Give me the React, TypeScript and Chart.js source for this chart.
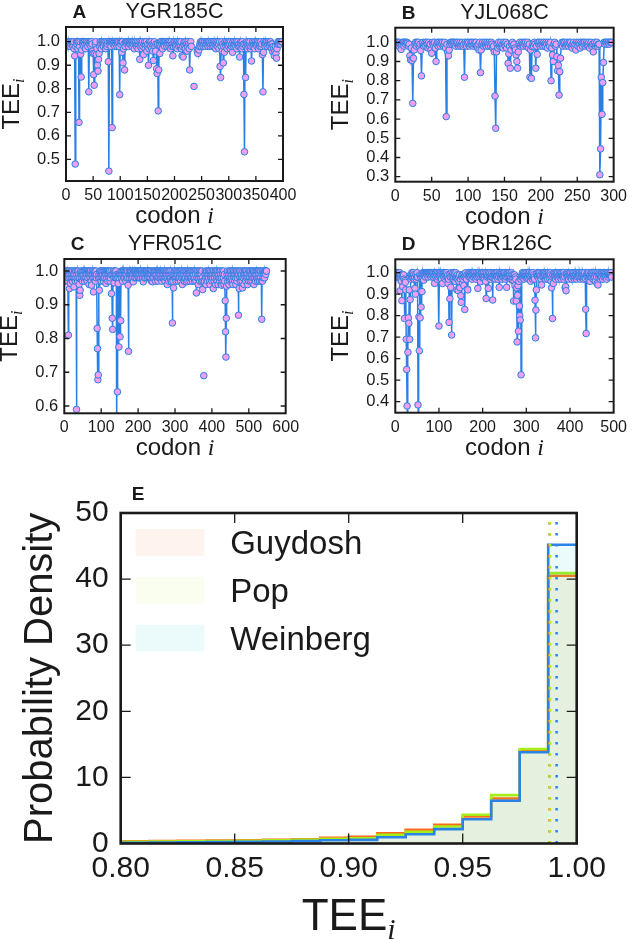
import React, { useEffect, useRef } from "react";
import { Chart, registerables } from "chart.js";

Chart.register(...registerables);

// ---------------- data: per-codon TEE values (codon i = index + 1) ----------------
const teeYGR185C: (number | null)[] = [
  1, .99, .98, .985, 1, .99, 1, .98, .99, 1,
  1, .99, .98, 1, .97, .94, .48, .98, 1, .99,
  1, .97, 1, .657, .98, 1, .947, .85, .965, 1,
  .99, 1, .98, 1, .99, .97, 1, 1, .99, .98,
  1, .787, .99, 1, 1, .98, 1, .99, .96, .95,
  .86, .815, .95, .99, 1, .945, .97, .9, .875, .925,
  .95, .98, 1, .99, .97, 1, .99, 1, .98, 1,
  1, .99, .97, 1, .98, .99, 1, .915, .45, 1,
  .99, 1, .98, 1, .635, 1, .99, 1, 1, .98,
  1, .99, 1, .98, 1, .99, 1, .98, .775, 1,
  .99, 1, .955, 1, .91, .97, .99, .88, .98, 1,
  1, .99, 1, 1, .98, 1, .99, 1, 1, .99,
  1, .98, 1, .99, 1, .97, 1, .99, 1, .98,
  .99, 1, .97, .99, 1, .925, .98, 1, .99, .97,
  1, .98, .945, .99, 1, .97, .99, 1, .96, .98,
  .99, .9, .97, 1, .99, .98, 1, .97, .99, .96,
  .92, .99, 1, .98, .96, .99, .885, .865, .99, .706,
  .88, .99, .95, 1, .98, 1, .99, .97, 1, .99,
  1, .98, 1, 1, .99, .98, 1, .99, 1, .98,
  1, .99, .97, 1, .98, .99, .94, .98, 1, .99,
  1, .98, .99, 1, .97, 1, .99, .98, 1, .99,
  .98, 1, .97, .94, .98, .935, .99, 1, .98, .97,
  1, .99, .96, .98, 1, .99, .97, .88, .99, 1,
  .98, null, null, null, null, .81, null, null, null, null,
  null, .96, .95, .97, .965, .98, .99, 1, .98, 1,
  .99, 1, .98, .99, 1, 1, .98, .99, 1, .99,
  1, .98, 1, .99, 1, .98, .99, 1, 1, .98,
  .99, 1, .98, 1, .99, .97, 1, .99, .98, 1,
  .99, .97, 1, .895, .848, .98, 1, .96, .99, .91,
  .98, .955, 1, .99, .98, 1, .97, .99, 1, .98,
  1, .99, .97, 1, .98, .99, .955, 1, .98, .99,
  1, .99, .98, 1, .97, .99, 1, .98, .99, .935,
  .98, 1, .99, .97, 1, .98, .99, .776, .532, .99,
  .848, .98, 1, .99, .97, 1, .98, .99, 1, .97,
  .98, .918, .99, 1, .98, .99, 1, .97, .99, 1,
  .99, .98, 1, .99, .97, 1, .98, .99, 1, .98,
  .99, .945, .787, .955, 1, .99, .98, 1, .99, 1,
  .98, .99, 1, 1, .99, .98, 1, .99, .97, .99,
  .958, .98, .97, .94, .96, .98, .95, .93, .97, .99,
  1, .99, 1, 1, .99, 1, 1, 1,
];

const teeYJL068C: (number | null)[] = [
  1, 1, .99, 1, .98, 1, .99, .963, .99, 1,
  1, .98, 1, .99, 1, 1, .995, .98, .99, .93,
  .908, .97, .905, .682, .917, .96, .99, 1, .98, 1,
  .99, 1, .98, .99, .957, .825, .99, 1, .98, .99,
  1, .98, 1, .99, .97, 1, .98, .99, .96, .943,
  1, .99, .98, 1, .97, .9, .99, 1, .98, 1,
  .99, .98, 1, .99, 1, .98, .99, 1, .97, .613,
  .99, .95, .93, .96, .99, 1, 1, .99, 1, 1,
  .99, 1, .98, 1, .99, 1, .98, .99, 1, .98,
  .99, 1, .98, .99, .818, 1, .99, .98, 1, .99,
  1, .98, .99, 1, .99, 1, .98, .99, 1, .99,
  1, .98, .97, .99, .96, 1, .842, .96, .99, 1,
  .98, .99, 1, .99, .98, 1, .99, .98, 1, .99,
  .98, 1, .99, .97, .98, .95, .72, .552, .95, .99,
  .97, 1, .98, .99, 1, .98, .99, .97, 1, .99,
  .98, 1, .97, .99, .89, .94, .98, .865, .96, .99,
  1, .98, .99, .97, .96, .934, .9, .865, .95, .99,
  1, .98, .99, 1, .99, .98, 1, .99, 1, .98,
  .99, 1, .97, .99, .818, .96, .812, .977, .99, .98,
  1, .99, .865, .98, .937, 1, .99, 1, .98, .99,
  1, .99, .98, 1, .99, .98, 1, .99, .97, 1,
  .99, .98, 1, .8, .97, .934, .9, .99, 1, .98,
  .99, .925, .852, .88, .725, .847, .917, .99, 1, .98,
  1, .99, 1, .98, .99, 1, .99, .98, 1, .99,
  1, .98, .97, .99, 1, .98, .99, .96, 1, .99,
  .98, 1, .99, .97, 1, .99, .98, 1, .99, 1,
  .98, .99, 1, .99, .98, 1, .97, .99, 1, .98,
  .99, .95, .99, 1, .98, .99, 1, .98, .99, .99,
  .31, .445, .818, .625, .79, .895, 1, .99, 1, 1,
  .99, 1, 1, .99, 1, 1, 1,
];

const teeYFR051C: (number | null)[] = [
  1, .98, .99, .97, 1, .973, .99, 1, .99, .98,
  .81, .99, 1, .948, .98, .99, .963, 1, .98, 1,
  .99, .97, 1, .98, .99, .953, .98, 1, .99, .97,
  1, .98, .59, .99, 1, .97, .98, 1, .99, .96,
  .98, .928, .943, .99, 1, .98, .99, 1, .97, .99,
  1, .98, .99, 1, .97, .98, 1, .99, .98, 1,
  .99, .97, 1, .98, .99, 1, .96, .99, 1, .98,
  1, .99, .97, .958, .99, 1, .98, .99, .938, 1,
  .98, .99, 1, .97, .99, 1, .98, .99, .83, .77,
  .678, .692, .98, .99, .943, 1, .98, .99, 1, .97,
  .99, 1, .98, .99, 1, .97, .98, 1, .99, .98,
  1, .99, .963, 1, .98, .99, 1, .97, .99, 1,
  .98, .99, 1, .97, .98, .99, 1, .933, .99, .86,
  .827, .99, 1, .98, .965, .99, 1, .98, .99, 1,
  .98, .52, .99, .642, .98, .963, .99, .775, .98, .99,
  .805, .99, .853, 1, .98, .99, 1, .97, .99, 1,
  .98, 1, .99, .98, 1, .99, .97, 1, .98, .99,
  1, .98, .958, .762, .99, 1, .98, .99, 1, .99,
  1, .98, .99, 1, .99, .98, .968, 1, .99, 1,
  .98, 1, .99, 1, .98, .99, 1, .99, 1, .98,
  1, .99, .98, 1, .99, 1, .98, 1, .99, 1,
  .99, .98, 1, .968, .99, 1, .98, 1, .99, 1,
  .98, .99, 1, 1, .99, .98, 1, .99, 1, .98,
  .99, 1, .98, 1, .99, .97, 1, .99, .968, .98,
  1, .99, .98, 1, .99, 1, .97, .99, 1, .98,
  .99, 1, .98, .97, 1, .99, .98, 1, .99, 1,
  .98, .99, 1, .97, .98, 1, .99, .98, 1, .99,
  1, .98, .97, .99, 1, .98, .99, 1, .96, .98,
  1, .99, .97, 1, .98, .99, 1, .98, .97, .99,
  .968, 1, .846, .99, .97, .95, .99, 1, .98, .99,
  1, .98, .97, .99, 1, .98, .99, 1, .97, .98,
  1, .99, .98, 1, .97, .99, 1, .98, .99, .96,
  1, .98, .99, 1, .97, .98, 1, .99, .98, 1,
  .968, .99, 1, .98, .97, .99, 1, .98, .99, 1,
  .97, .98, 1, .99, .98, 1, .97, .99, 1, .98,
  .99, 1, .97, .98, 1, .99, .97, .935, 1, .98,
  .99, 1, .96, .98, .99, 1, .97, .99, .98, 1,
  .99, .97, 1, .98, .945, .97, null, .69, null, .97,
  .99, 1, .98, .96, .99, 1, .98, .97, .99, 1,
  .98, .99, 1, .97, .96, .99, 1, .98, .99, .97,
  1, .98, .99, .948, 1, .97, .99, .98, 1, .96,
  .99, 1, .98, .97, .99, 1, .96, .98, .99, 1,
  .97, .98, 1, .99, .96, .98, .958, 1, .99, .97,
  .98, 1, .96, .99, .97, .912, .82, .745, .86, .955,
  .99, 1, .97, .98, .99, .96, 1, .98, .97, .99,
  1, .973, .98, .99, 1, .97, .96, .99, 1, .98,
  .99, .97, 1, .98, .96, .99, 1, .97, .98, .99,
  1, .869, .99, .948, 1, .98, .97, .99, 1, .98,
  .99, .97, .95, 1, .98, .99, .96, 1, .99, .98,
  1, .97, .99, .98, 1, .99, .96, .98, .971, 1,
  .99, .98, 1, .97, .99, 1, .98, .99, .97, 1,
  .98, .99, 1, .96, .98, .99, 1, .97, .99, 1,
  .98, .99, 1, .97, .98, 1, .99, .98, .97, 1,
  .99, .98, 1, .97, .857, .99, .97, 1, .98, .99,
  1, .99, .98, 1, 1, .99, 1, 1,
];

const teeYBR126C: (number | null)[] = [
  1, .99, .98, 1, .985, .99, 1, .98, .99, 1,
  .916, .98, .99, .96, .87, .99, .935, .98, .99, .97,
  .787, .963, .955, .92, .69, .55, .38, .30, .63, .79,
  .765, .92, .69, .875, .99, .97, .98, 1, .99, .98,
  1, .99, .97, .98, .927, .9, .99, .97, .98, 1,
  .98, .385, .3, .795, .637, .99, .79, .98, .84, .99,
  .912, .98, 1, .99, .965, 1, .99, 1, .98, 1,
  1, .99, 1, 1, .98, 1, .99, 1, 1, .99,
  1, .98, 1, .99, 1, 1, .98, .99, 1, .95,
  .99, 1, .98, 1, .99, .97, 1, .98, .99, .752,
  1, .99, .98, 1, .99, .97, 1, .95, .99, 1,
  .98, 1, .99, .97, 1, .98, .99, 1, .98, .99,
  .95, .97, .769, .99, .879, .98, .932, 1, .71, .98,
  .99, 1, .97, .98, 1, .99, .96, .98, 1, .974,
  .92, .99, .97, .916, .98, .96, .99, .93, .97, .893,
  .862, .98, .99, .95, .97, .99, .94, .98, .829, .99,
  1, .98, .97, .99, .924, .92, .99, 1, .98, .99,
  1, .99, .98, 1, .99, .97, 1, .99, .98, 1,
  .99, 1, .98, .99, .97, 1, .98, .99, .927, 1,
  .99, .98, 1, .99, .958, .98, 1, .99, 1, .98,
  .99, 1, .98, .97, .99, 1, .96, .88, .99, 1,
  .98, .99, .927, 1, .98, .99, 1, .97, .98, .99,
  1, .98, .873, .99, 1, .98, .99, 1, .97, .99,
  1, .98, .99, 1, .97, .99, .98, .932, 1, .99,
  .98, 1, .99, .97, 1, .98, .99, 1, .98, .99,
  1, .97, .99, .98, .932, 1, .99, .98, 1, .99,
  .98, 1, .99, .97, .98, 1, .99, .966, .98, .99,
  .868, .96, .99, .94, .98, .97, .868, .93, .678, .895,
  .94, .728, .96, .845, .8, .78, .97, .525, .98, .99,
  1, .98, .99, 1, .97, .99, 1, .98, .99, 1,
  .974, .99, .98, 1, .99, .97, 1, .98, .99, .96,
  .98, 1, .99, .97, 1, .98, .99, .98, .97, .872,
  .697, .826, .92, .99, 1, .98, .99, 1, .97, .99,
  1, .98, .99, .97, .943, 1, .99, .98, 1, .99,
  .98, 1, .99, .97, 1, .98, .99, 1, .97, .99,
  1, .98, .99, .97, 1, .99, .96, .93, .98, .787,
  .99, .95, 1, .98, .99, 1, .97, .99, 1, .98,
  .99, 1, .98, .97, .99, 1, .98, .99, 1, .97,
  .99, 1, .98, .99, 1, .97, .99, .98, .93, .935,
  .916, .99, 1, .98, .99, 1, .97, .99, 1, .98,
  .99, 1, .98, .97, .99, 1, .98, .99, 1, .97,
  .99, .98, 1, .99, .97, 1, .98, .99, 1, .99,
  .98, 1, .99, .97, .98, 1, .99, .98, 1, .99,
  .97, .98, .99, 1, .974, .83, .717, .99, .98, 1,
  .99, .98, 1, .97, .99, .96, .98, 1, .99, .98,
  1, .99, .97, .98, 1, .99, .98, .96, 1, .99,
  .98, .95, 1, .943, .99, .98, 1, .99, .97, .98,
  1, .99, .98, 1, .97, .99, 1, .98, .99, 1,
  .99, .98, 1, .97, .99, 1, .98, .99, 1, .99,
  .99, 1, .99, 1, .98,
];

const xTicksA = [0, 50, 100, 150, 200, 250, 300, 350, 400];
const xTicksB = [0, 50, 100, 150, 200, 250, 300];
const xTicksC = [0, 100, 200, 300, 400, 500, 600];
const xTicksD = [0, 100, 200, 300, 400, 500];
const yTicksA = [0.5, 0.6, 0.7, 0.8, 0.9, 1.0];
const yTicksB = [0.3, 0.4, 0.5, 0.6, 0.7, 0.8, 0.9, 1.0];
const yTicksC = [0.6, 0.7, 0.8, 0.9, 1.0];
const yTicksD = [0.4, 0.5, 0.6, 0.7, 0.8, 0.9, 1.0];

// ---------------- histogram (panel E) ----------------
const binEdges = [0.8, 0.8125, 0.825, 0.8375, 0.85, 0.8625, 0.875, 0.8875, 0.9, 0.9125, 0.925, 0.9375, 0.95, 0.9625, 0.975, 0.9875];
const binEnd = 1.0;
const guydoshDensity = [0.35, 0.38, 0.4, 0.43, 0.47, 0.55, 0.65, 0.85, 1.0, 1.55, 2.06, 2.83, 4.08, 6.81, 14.0, 40.5];
const popDensity = [0.25, 0.28, 0.32, 0.36, 0.4, 0.47, 0.55, 0.72, 0.8, 1.3, 1.76, 2.58, 4.34, 7.32, 14.3, 40.9];
const weinbergDensity = [0.12, 0.15, 0.18, 0.22, 0.26, 0.3, 0.37, 0.5, 0.55, 0.95, 1.41, 2.17, 3.68, 6.46, 13.8, 45.2];
const medianGuydosh = 0.9881;
const medianPop = 0.9883;
const medianWeinberg = 0.9912;
const histXTicks = [0.8, 0.85, 0.9, 0.95, 1.0];
const histYTicks = [0, 10, 20, 30, 40, 50];
const seriesNames = ["Guydosh", "Pop", "Weinberg"];

// ---------------- styling ----------------
const FONT = "'Liberation Sans', Arial, Helvetica, sans-serif";
const SERIF = "'Liberation Serif', 'DejaVu Serif', serif";
const INK = "#1a1a1a";
const STEM_BLUE = "#2a7fe3";
const MARKER_FILL = "#ee9ff1";
const LINE_COLORS = ["#ff6a1c", "#a6ee1a", "#2b83e6"];
const FILL_COLORS = ["rgba(255,100,50,0.08)", "rgba(190,240,30,0.07)", "rgba(0,200,215,0.08)"];

type Part = { text: string; font: string; dy?: number };

function drawParts(ctx: CanvasRenderingContext2D, parts: Part[], x: number, y: number, align: "left" | "center") {
  ctx.textAlign = "left";
  ctx.textBaseline = "alphabetic";
  const widths = parts.map((p) => {
    ctx.font = p.font;
    return ctx.measureText(p.text).width;
  });
  const total = widths.reduce((a, b) => a + b, 0);
  let cx = align === "center" ? x - total / 2 : x;
  parts.forEach((p, i) => {
    ctx.font = p.font;
    ctx.fillText(p.text, cx, y + (p.dy || 0));
    cx += widths[i];
  });
}

function drawRotated(ctx: CanvasRenderingContext2D, parts: Part[], x: number, y: number) {
  ctx.save();
  ctx.translate(x, y);
  ctx.rotate(-Math.PI / 2);
  drawParts(ctx, parts, 0, 0, "center");
  ctx.restore();
}

function framePlugin(opts: {
  xTicks: number[];
  yTicks: number[];
  tickLen: number;
  frameWidth: number;
  text: (ctx: CanvasRenderingContext2D, a: { left: number; right: number; top: number; bottom: number }) => void;
}) {
  return {
    id: "frameAndText",
    afterDraw(chart: any) {
      const ctx: CanvasRenderingContext2D = chart.ctx;
      const a = chart.chartArea;
      const xs = chart.scales.x;
      const ys = chart.scales.y;
      ctx.save();
      ctx.strokeStyle = INK;
      ctx.lineWidth = 1.3;
      ctx.beginPath();
      for (const v of opts.xTicks) {
        const px = xs.getPixelForValue(v);
        if (px <= a.left + 1 || px >= a.right - 1) continue;
        ctx.moveTo(px, a.bottom);
        ctx.lineTo(px, a.bottom - opts.tickLen);
        ctx.moveTo(px, a.top);
        ctx.lineTo(px, a.top + opts.tickLen);
      }
      for (const v of opts.yTicks) {
        const py = ys.getPixelForValue(v);
        if (py <= a.top + 1 || py >= a.bottom - 1) continue;
        ctx.moveTo(a.left, py);
        ctx.lineTo(a.left + opts.tickLen, py);
        ctx.moveTo(a.right, py);
        ctx.lineTo(a.right - opts.tickLen, py);
      }
      ctx.stroke();
      ctx.lineWidth = opts.frameWidth;
      ctx.strokeRect(a.left, a.top, a.right - a.left, a.bottom - a.top);
      ctx.fillStyle = INK;
      opts.text(ctx, a);
      ctx.restore();
    },
  };
}

type Box = { x: number; y: number; w: number; h: number };
type Area = { l: number; t: number; r: number; b: number };

type StemSpec = {
  letter: string;
  gene: string;
  values: (number | null)[];
  xMax: number;
  xTicks: number[];
  yTicks: number[];
  yMin: number;
  yMax: number;
  box: Box;
  area: Area;
};

const stemPanels: StemSpec[] = [
  { letter: "A", gene: "YGR185C", values: teeYGR185C, xMax: 400, xTicks: xTicksA, yTicks: yTicksA, yMin: 0.408, yMax: 1.0625, box: { x: 0, y: 0, w: 316, h: 230 }, area: { l: 66, t: 27, r: 283, b: 181 } },
  { letter: "B", gene: "YJL068C", values: teeYJL068C, xMax: 300, xTicks: xTicksB, yTicks: yTicksB, yMin: 0.274, yMax: 1.076, box: { x: 316, y: 0, w: 316, h: 230 }, area: { l: 79.3, t: 27.7, r: 301.7, b: 181.7 } },
  { letter: "C", gene: "YFR051C", values: teeYFR051C, xMax: 600, xTicks: xTicksC, yTicks: yTicksC, yMin: 0.5784, yMax: 1.0356, box: { x: 0, y: 230, w: 316, h: 235 }, area: { l: 64.3, t: 29, r: 285.7, b: 183.3 } },
  { letter: "D", gene: "YBR126C", values: teeYBR126C, xMax: 500, xTicks: xTicksD, yTicks: yTicksD, yMin: 0.3488, yMax: 1.0623, box: { x: 316, y: 230, w: 316, h: 235 }, area: { l: 79.3, t: 29.3, r: 301.7, b: 182.7 } },
];

function stemConfig(spec: StemSpec): any {
  const Y_W = 40;
  const X_H = 25;
  const { box, area } = spec;
  const data = spec.values.map((v, i) => ({ x: i + 1, y: v }));
  return {
    type: "line",
    data: {
      datasets: [
        {
          data,
          borderColor: STEM_BLUE,
          borderWidth: 1.5,
          pointRadius: 3.3,
          pointBackgroundColor: MARKER_FILL,
          pointBorderColor: STEM_BLUE,
          pointBorderWidth: 1,
          spanGaps: false,
          tension: 0,
          fill: false,
        },
      ],
    },
    options: {
      animation: false,
      responsive: false,
      events: [],
      layout: { padding: { left: area.l - Y_W, top: area.t, right: box.w - area.r, bottom: box.h - area.b - X_H } },
      plugins: { legend: { display: false }, tooltip: { enabled: false }, title: { display: false } },
      scales: {
        x: {
          type: "linear",
          min: 0,
          max: spec.xMax,
          grid: { display: false, drawTicks: false, tickLength: 0 },
          border: { display: false },
          afterBuildTicks: (s: any) => {
            s.ticks = spec.xTicks.map((v) => ({ value: v }));
          },
          afterFit: (s: any) => {
            s.height = X_H;
          },
          ticks: { font: { family: FONT, size: 16 }, color: INK, padding: 5, maxRotation: 0, autoSkip: false, callback: (v: number) => String(v) },
        },
        y: {
          type: "linear",
          min: spec.yMin,
          max: spec.yMax,
          grid: { display: false, drawTicks: false, tickLength: 0 },
          border: { display: false },
          afterBuildTicks: (s: any) => {
            s.ticks = spec.yTicks.map((v) => ({ value: v }));
          },
          afterFit: (s: any) => {
            s.width = Y_W;
          },
          ticks: { font: { family: FONT, size: 16.5 }, color: INK, padding: 6, autoSkip: false, callback: (v: number) => v.toFixed(1) },
        },
      },
    },
    plugins: [
      framePlugin({
        xTicks: spec.xTicks,
        yTicks: spec.yTicks,
        tickLen: 5,
        frameWidth: 2,
        text: (ctx, a) => {
          drawParts(ctx, [{ text: spec.letter, font: `bold 19px ${FONT}` }], a.left + 6.5, a.top - 9, "left");
          drawParts(ctx, [{ text: spec.gene, font: `21.5px ${FONT}` }], (a.left + a.right) / 2, a.top - 9, "center");
          drawParts(
            ctx,
            [
              { text: "codon ", font: `24px ${FONT}` },
              { text: "i", font: `italic 24px ${SERIF}` },
            ],
            (a.left + a.right) / 2,
            a.bottom + 42,
            "center"
          );
          drawRotated(
            ctx,
            [
              { text: "TEE", font: `24px ${FONT}` },
              { text: "i", font: `italic 16px ${SERIF}`, dy: 5 },
            ],
            a.left - 47,
            (a.top + a.bottom) / 2
          );
        },
      }),
    ],
  };
}

const histBox: Box = { x: 0, y: 470, w: 632, h: 469 };
const histArea: Area = { l: 120.7, t: 43, r: 576.7, b: 373.5 };

function histConfig(): any {
  const Y_W = 100;
  const X_H = 50;
  const box = histBox;
  const area = histArea;
  const series = [guydoshDensity, popDensity, weinbergDensity];
  const medians = [medianGuydosh, medianPop, medianWeinberg];
  const histSets = series.map((vals, k) => ({
    data: [...binEdges.map((e, i) => ({ x: e, y: vals[i] })), { x: binEnd, y: vals[vals.length - 1] }],
    stepped: "before",
    borderColor: LINE_COLORS[k],
    borderWidth: 2.6,
    backgroundColor: FILL_COLORS[k],
    fill: "origin",
    pointRadius: 0,
    order: 5 - k,
  }));
  const medianSets = medians.map((m, k) => ({
    data: [
      { x: m, y: histYTicks[0] },
      { x: m, y: histYTicks[histYTicks.length - 1] },
    ],
    borderColor: LINE_COLORS[k],
    borderWidth: 2.5,
    borderDash: [2.5, 8.5],
    borderCapStyle: "butt",
    fill: false,
    pointRadius: 0,
    order: 2 - k,
  }));
  return {
    type: "line",
    data: { datasets: [...histSets, ...medianSets] },
    options: {
      animation: false,
      responsive: false,
      events: [],
      layout: { padding: { left: area.l - Y_W, top: area.t, right: box.w - area.r, bottom: box.h - area.b - X_H } },
      plugins: { legend: { display: false }, tooltip: { enabled: false }, title: { display: false } },
      scales: {
        x: {
          type: "linear",
          min: 0.8,
          max: 1.0,
          grid: { display: false, drawTicks: false, tickLength: 0 },
          border: { display: false },
          afterBuildTicks: (s: any) => {
            s.ticks = histXTicks.map((v) => ({ value: v }));
          },
          afterFit: (s: any) => {
            s.height = X_H;
          },
          ticks: { font: { family: FONT, size: 30 }, color: INK, padding: 7, maxRotation: 0, autoSkip: false, callback: (v: number) => v.toFixed(2) },
        },
        y: {
          type: "linear",
          min: 0,
          max: 50,
          grid: { display: false, drawTicks: false, tickLength: 0 },
          border: { display: false },
          afterBuildTicks: (s: any) => {
            s.ticks = histYTicks.map((v) => ({ value: v }));
          },
          afterFit: (s: any) => {
            s.width = Y_W;
          },
          ticks: { font: { family: FONT, size: 30 }, color: INK, padding: 12, autoSkip: false, callback: (v: number) => String(v) },
        },
      },
    },
    plugins: [
      framePlugin({
        xTicks: histXTicks,
        yTicks: histYTicks,
        tickLen: 10,
        frameWidth: 2.6,
        text: (ctx, a) => {
          drawParts(ctx, [{ text: "E", font: `bold 19px ${FONT}` }], a.left + 11, a.top - 13, "left");
          // legend
          seriesNames.forEach((name, k) => {
            const cy = a.top + 29.3 + k * 47.9;
            ctx.fillStyle = "#ffffff";
            ctx.fillRect(a.left + 15, cy - 13.3, 68.6, 26.7);
            ctx.fillStyle = FILL_COLORS[k];
            ctx.fillRect(a.left + 15, cy - 13.3, 68.6, 26.7);
            ctx.fillStyle = INK;
            drawParts(ctx, [{ text: name, font: `33px ${FONT}` }], a.left + 109.5, cy + 12, "left");
          });
          drawRotated(ctx, [{ text: "Probability Density", font: `40px ${FONT}` }], 52, (a.top + a.bottom) / 2);
          drawParts(
            ctx,
            [
              { text: "TEE", font: `44px ${FONT}` },
              { text: "i", font: `italic 30px ${SERIF}`, dy: 9 },
            ],
            (a.left + a.right) / 2,
            460,
            "center"
          );
        },
      }),
    ],
  };
}

function ChartCanvas({ box, make }: { box: Box; make: () => any }) {
  const ref = useRef<HTMLCanvasElement>(null);
  useEffect(() => {
    const chart = new Chart(ref.current as HTMLCanvasElement, make());
    return () => chart.destroy();
  }, []);
  return (
    <canvas
      ref={ref}
      width={box.w}
      height={box.h}
      style={{ position: "absolute", left: box.x, top: box.y, width: box.w, height: box.h }}
    />
  );
}

export default function App() {
  return (
    <div style={{ position: "absolute", left: 0, top: 0, width: 632, height: 939, background: "#ffffff", overflow: "hidden" }}>
      {stemPanels.map((p) => (
        <ChartCanvas key={p.letter} box={p.box} make={() => stemConfig(p)} />
      ))}
      <ChartCanvas box={histBox} make={histConfig} />
    </div>
  );
}
